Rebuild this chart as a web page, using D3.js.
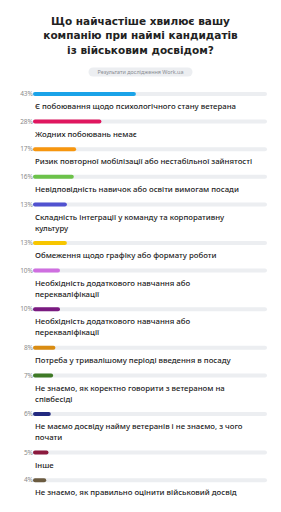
<!DOCTYPE html>
<html>
<head>
<meta charset="utf-8">
<script src="https://cdn.jsdelivr.net/npm/d3@7"></script>
<style>
  html, body { margin: 0; padding: 0; background: #fff; }
  svg { display: block; }
</style>
</head>
<body>
<script>
// дані
const titleLines = ["Що найчастіше хвилює вашу", "компанію при наймі кандидатів", "із військовим досвідом?"];
const sourceText = "Результати дослідження Work.ua";
const values = [43, 28, 17, 16, 13, 13, 10, 10, 8, 7, 6, 5, 4];
const labels = [
  ["Є побоювання щодо психологічного стану ветерана"],
  ["Жодних побоювань немає"],
  ["Ризик повторної мобілізації або нестабільної зайнятості"],
  ["Невідповідність навичок або освіти вимогам посади"],
  ["Складність інтеграції у команду та корпоративну", "культуру"],
  ["Обмеження щодо графіку або формату роботи"],
  ["Необхідність додаткового навчання або", "перекваліфікації"],
  ["Необхідність додаткового навчання або", "перекваліфікації"],
  ["Потреба у тривалішому періоді введення в посаду"],
  ["Не знаємо, як коректно говорити з ветераном на", "співбесіді"],
  ["Не маємо досвіду найму ветеранів і не знаємо, з чого", "почати"],
  ["Інше"],
  ["Не знаємо, як правильно оцінити військовий досвід"]
];
const colors = ["#1aa3e8", "#e0165f", "#f7960f", "#6cc24a", "#5152d0", "#f7c600", "#cf6fe0",
  "#7a1a80", "#d98c12", "#3f7a26", "#232a80", "#8c1a3e", "#6b5b40"];

const width = 281;
const height = 512;
const font = "'Noto Sans', sans-serif";
const titleFont = "'DejaVu Sans', sans-serif";

const svg = d3.select("body").append("svg")
  .attr("width", width)
  .attr("height", height);

// заголовок
svg.selectAll(".title")
  .data(titleLines)
  .join("text")
  .attr("class", "title")
  .attr("x", width / 2)
  .attr("y", (d, i) => 21.5 + i * 14.3)
  .attr("dy", "0.35em")
  .attr("text-anchor", "middle")
  .style("font-family", titleFont)
  .style("font-weight", 700)
  .style("font-size", "10.5px")
  .attr("fill", "#222")
  .text(d => d);

// плашка з джерелом
const pill = svg.append("g").attr("transform", `translate(${width / 2}, 72)`);
pill.append("rect")
  .attr("x", -52).attr("y", -4.5)
  .attr("width", 104).attr("height", 9)
  .attr("rx", 4.5)
  .attr("fill", "#eceef1");
pill.append("text")
  .attr("text-anchor", "middle")
  .attr("dy", "0.35em")
  .style("font-family", font)
  .style("font-size", "5.4px")
  .attr("fill", "#8a8d93")
  .text(sourceText);

// розташування рядків
const rows = [];
let y = 94;
values.forEach((v, i) => {
  rows.push({ value: v, lines: labels[i], color: colors[i], y: y });
  y += 27.6 + 11 * (labels[i].length - 1);
});

const x = d3.scaleLinear().domain([0, 100]).range([35, 265]);

const row = svg.selectAll(".row")
  .data(rows)
  .join("g")
  .attr("class", "row")
  .attr("transform", d => `translate(0, ${d.y})`);

// фон смуги
row.append("line")
  .attr("x1", x(0)).attr("x2", x(100))
  .attr("stroke", "#eceef1")
  .attr("stroke-width", 4)
  .attr("stroke-linecap", "round");

// смуга зі значенням
row.append("line")
  .attr("x1", x(0)).attr("x2", d => x(d.value))
  .attr("stroke", d => d.color)
  .attr("stroke-width", 4)
  .attr("stroke-linecap", "round");

// відсоток
row.append("text")
  .attr("x", 33)
  .attr("dy", "0.35em")
  .attr("text-anchor", "end")
  .style("font-family", font)
  .style("font-size", "6.5px")
  .attr("fill", "#8a8a8a")
  .text(d => d.value + "%");

// підпис
row.selectAll(".lbl")
  .data(d => d.lines)
  .join("text")
  .attr("class", "lbl")
  .attr("x", 35)
  .attr("y", (d, i) => 12.5 + i * 11)
  .attr("dy", "0.35em")
  .style("font-family", font)
  .style("font-weight", 500)
  .style("font-size", "7.8px")
  .attr("fill", "#222")
  .text(d => d);
</script>
</body>
</html>
